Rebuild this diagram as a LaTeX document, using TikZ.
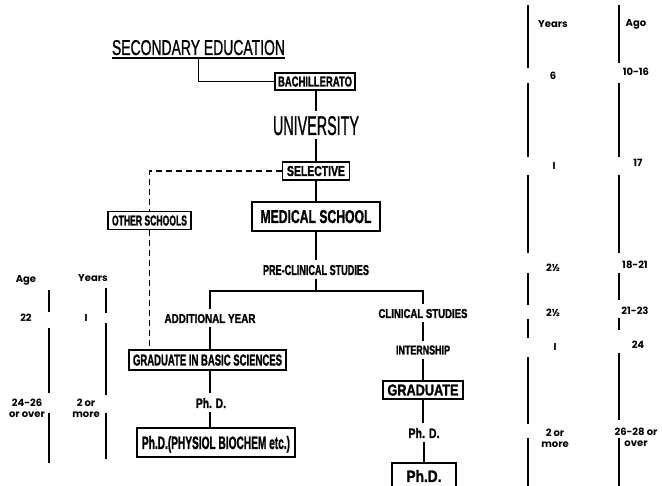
\documentclass[tikz,border=0pt]{standalone}
\usepackage{graphicx}
\usepackage{fontspec}
\newfontfamily\labfont{Liberation Sans}[FakeBold=1.2]
\newfontfamily\labbold{Liberation Sans}[FakeBold=1.6]
\newfontfamily\colfont{Poppins}
\newcommand{\fitb}[3]{\resizebox{#1pt}{#2pt}{\labbold\bfseries #3}}
\newcommand{\fitr}[3]{\resizebox{#1pt}{#2pt}{\labfont #3}}
\begin{document}
\begin{tikzpicture}[x=1pt,y=-1pt,
  lbl/.style={inner sep=0pt,outer sep=4.5pt,text depth=0pt},
  boxn/.style={draw,line width=1.6pt,inner sep=0pt,text depth=0pt},
  conn/.style={line width=1.8pt},
  dconn/.style={line width=1.6pt,dash pattern=on 6pt off 4pt},
  bar/.style={line width=1.8pt},
  coltxt/.style={font=\colfont\bfseries\fontsize{10}{11}\selectfont,inner sep=0pt,align=center}]
\useasboundingbox[fill=white] (0,0) rectangle (662,486);

% main chart nodes
\node[inner sep=0pt,outer sep=0pt,text depth=0pt] (sec) at (198.5,47.5) {\fitr{173}{15}{SECONDARY EDUCATION}};
\node[boxn,minimum width=80pt,minimum height=17pt] (bach) at (315,81.5) {\fitb{74}{10}{BACHILLERATO}};
\node[lbl] (univ) at (316,125.5) {\fitr{86}{19}{UNIVERSITY}};
\node[boxn,minimum width=67pt,minimum height=18pt] (sel) at (316,171) {\fitb{58}{10}{SELECTIVE}};
\node[boxn,minimum width=83pt,minimum height=18pt] (oth) at (149.5,220.5) {\fitb{75}{10}{OTHER SCHOOLS}};
\node[boxn,line width=2.2pt,minimum width=128pt,minimum height=29pt] (med) at (316,216.5) {\fitb{111}{13}{MEDICAL SCHOOL}};
\node[lbl] (pre) at (316,270) {\fitb{106}{10}{PRE-CLINICAL STUDIES}};
\coordinate (J) at (316,291);
\node[lbl] (add) at (210,318.5) {\fitb{91}{9}{ADDITIONAL YEAR}};
\node[lbl] (clin) at (423,313.5) {\fitb{89}{9}{CLINICAL STUDIES}};
\node[lbl] (intern) at (423,350) {\fitb{54}{9}{INTERNSHIP}};
\node[boxn,minimum width=157pt,minimum height=20pt] (gradB) at (207.5,360) {\fitb{149}{11}{GRADUATE IN BASIC SCIENCES}};
\node[lbl] (phd1) at (211,403) {\fitb{30}{10}{Ph. D.}};
\node[boxn,line width=2pt,minimum width=158pt,minimum height=29pt] (phdP) at (216,442.5) {\fitb{148}{13}{Ph.D.(PHYSIOL BIOCHEM etc.)}};
\node[boxn,minimum width=80pt,minimum height=18pt] (gradM) at (423,390) {\fitb{71}{11}{GRADUATE}};
\node[lbl] (phd2) at (424,433) {\fitb{31}{10}{Ph. D.}};
\node[boxn,line width=2pt,minimum width=64pt,minimum height=26pt] (phdB) at (424,476) {\fitb{35}{12}{Ph.D.}};

% connectors
\draw[line width=1.6pt] ([yshift=-3pt]sec.south west) -- ([yshift=-3pt]sec.south east);
\draw[conn] ([yshift=-3pt]sec.south) |- (bach.west);
\draw[conn] (bach.south -| univ.north) -- (univ.north);
\draw[conn] (univ.south) -- (univ.south |- sel.north);
\draw[conn] (sel.south) -- (med.north);
\draw[dconn] (sel.west) -| (oth.north);
\draw[dconn] (oth.south) -- (oth.south |- gradB.north);
\draw[conn] (med.south) -- (pre.north);
\draw[conn] (pre.south) -- (J);
\draw[conn] (add.north) |- (J) -| (clin.north);
\draw[conn] (add.south) -- (add.south |- gradB.north);
\draw[conn] (add.south |- gradB.south) -- (add.south |- phd1.north);
\draw[conn] (add.south |- phd1.south) -- (add.south |- phdP.north);
\draw[conn] (clin.south) -- (intern.north);
\draw[conn] (intern.south) -- (intern.south |- gradM.north);
\draw[conn] (gradM.south) -- (gradM.south |- phd2.north);
\draw[conn] (phd2.south) -- (phd2.south |- phdB.north);

% right columns
\node[coltxt] (ry0) at (553,24) {Years};
\node[coltxt] (ry1) at (553,76) {6};
\node[coltxt] (ry2) at (554,166) {I};
\node[coltxt] (ry3) at (553,268) {2½};
\node[coltxt] (ry4) at (553,313) {2½};
\node[coltxt] (ry5) at (555,347) {I};
\node[coltxt] (ry6) at (555,438) {2 or\\more};
\node[coltxt] (ra0) at (636,24) {Ago};
\node[coltxt] (ra1) at (636,72) {10-16};
\node[coltxt] (ra2) at (638,163) {17};
\node[coltxt] (ra3) at (635,265) {18-21};
\node[coltxt] (ra4) at (635,311) {21-23};
\node[coltxt] (ra5) at (638,345) {24};
\node[coltxt] (ra6) at (636,437) {26-28 or\\over};
\foreach \a/\b in {5/68,83/157,175/253,273/305,319/338,357/424,438/486}
  \draw[bar] (528,\a) -- (528,\b);
\foreach \a/\b in {5/63,83/157,175/253,273/300,318/330,353/420,438/486}
  \draw[bar] (619,\a) -- (619,\b);

% left columns
\node[coltxt] (la0) at (26,280) {Age};
\node[coltxt] (la1) at (26,318) {22};
\node[coltxt] (la2) at (27,408) {24-26\\or over};
\node[coltxt] (ly0) at (93,278) {Years};
\node[coltxt] (ly1) at (86,318) {I};
\node[coltxt] (ly2) at (86,408) {2 or\\more};
\foreach \a/\b in {290/312,328/393,413/463}
  \draw[bar] (49,\a) -- (49,\b);
\foreach \a/\b in {288/313,323/395,413/459}
  \draw[bar] (106,\a) -- (106,\b);
\end{tikzpicture}
\end{document}
